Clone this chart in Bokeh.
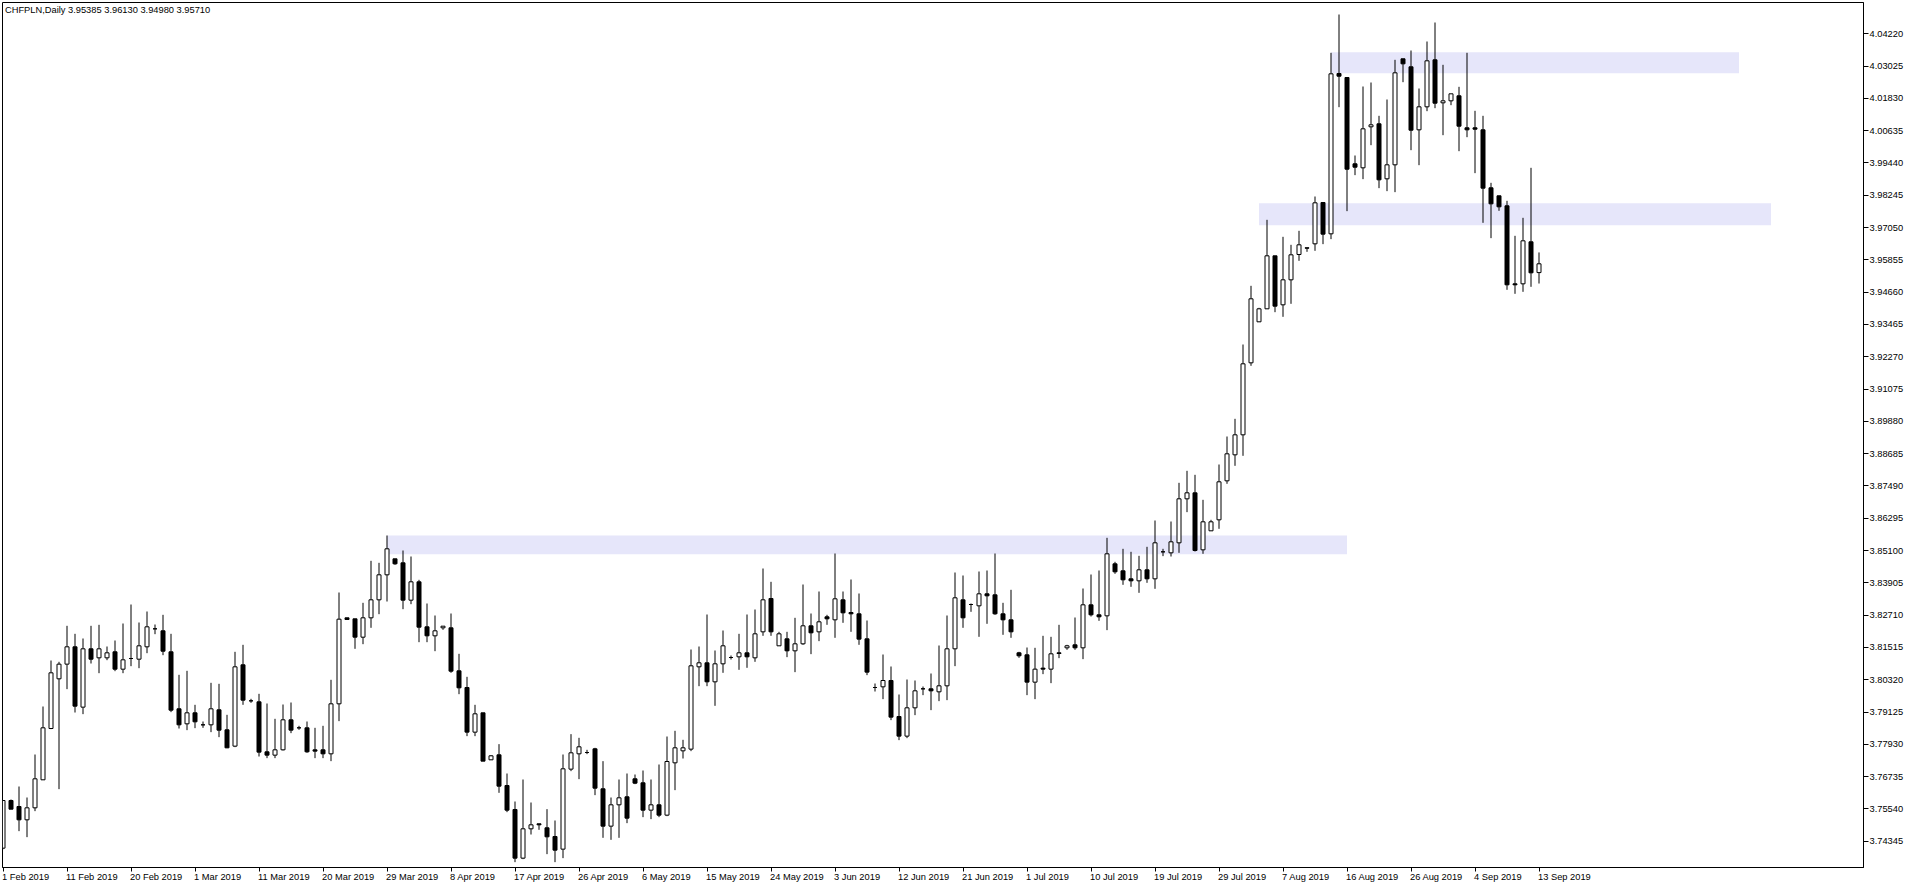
import numpy as np
from bokeh.plotting import figure
from bokeh.layouts import column
from bokeh.models import Range1d, LinearAxis, FixedTicker, NumeralTickFormatter, Label, ColumnDataSource, Grid
from bokeh.core.properties import value
from bokeh.embed import file_html
from bokeh.resources import INLINE

symbol_title = "CHFPLN,Daily  3.95385 3.96130 3.94980 3.95710"

opens = [3.74089,3.75852,3.75630,3.75137,3.75581,3.76617,3.78516,3.80354,3.80897,3.81538,
 3.79306,3.81464,3.81131,3.81131,3.81353,3.80711,3.81106,3.81081,3.81538,3.82204,
 3.82130,3.81353,3.79244,3.78689,3.79096,3.78652,3.78652,3.79207,3.78467,3.77863,
 3.80872,3.79540,3.79503,3.77653,3.77530,3.77727,3.78837,3.78541,3.78541,3.77727,
 3.77727,3.77579,3.79429,3.82611,3.82574,3.81895,3.82611,3.83277,3.84202,3.84794,
 3.84646,3.83264,3.83943,3.82278,3.81945,3.82241,3.82241,3.80650,3.80033,3.78381,
 3.79096,3.77357,3.77542,3.76407,3.75519,3.73719,3.74804,3.74989,3.74841,3.74520,
 3.74052,3.77012,3.77579,3.77628,3.77764,3.76284,3.74903,3.75692,3.75988,3.76654,
 3.76506,3.75495,3.75692,3.75310,3.77246,3.77690,3.77752,3.80798,3.80946,3.80243,
 3.80909,3.81143,3.81168,3.81316,3.81131,3.82093,3.83326,3.81575,3.81834,3.81390,
 3.81649,3.82315,3.82093,3.82648,3.82537,3.83277,3.82808,3.82759,3.81834,3.80033,
 3.80058,3.80292,3.78960,3.78233,3.79281,3.79984,3.79984,3.79873,3.80095,3.81464,
 3.83277,3.83104,3.83055,3.83499,3.83462,3.82759,3.82537,3.81316,3.81242,3.80231,
 3.80749,3.80712,3.81316,3.81501,3.81612,3.81501,3.83092,3.82722,3.82685,3.84609,
 3.84350,3.84054,3.83980,3.84387,3.84054,3.85053,3.85016,3.85386,3.87014,3.87236,
 3.85127,3.85830,3.86237,3.87680,3.88642,3.89382,3.92046,3.93563,3.94044,3.96005,
 3.94192,3.95117,3.96054,3.96301,3.96449,3.97978,3.96819,4.02751,4.02603,3.99409,
 3.99261,4.00778,4.00889,3.98854,3.99372,4.03294,4.02998,4.00667,4.01518,4.03257,
 4.01666,4.01740,4.01925,4.00741,4.00741,4.00667,3.98521,3.98225,3.97855,3.94969,
 3.94969,3.96523,3.95385]
highs = [3.75860,3.75889,3.76370,3.75963,3.77554,3.79330,3.81032,3.80983,3.82315,3.82019,
 3.81846,3.82315,3.82352,3.81550,3.81772,3.82401,3.83104,3.82438,3.82845,3.82364,
 3.82722,3.82019,3.80502,3.80650,3.79392,3.78775,3.80206,3.80169,3.79022,3.81353,
 3.81612,3.79614,3.79799,3.79441,3.78874,3.79404,3.79478,3.78615,3.78775,3.78541,
 3.78615,3.80317,3.83548,3.82611,3.82574,3.83166,3.84720,3.84646,3.85657,3.84794,
 3.85102,3.84880,3.84017,3.83141,3.82697,3.82302,3.82771,3.81279,3.80428,3.79392,
 3.79096,3.77530,3.77937,3.76851,3.75815,3.76629,3.75778,3.74989,3.75532,3.75112,
 3.77554,3.78307,3.78171,3.77727,3.77801,3.77308,3.75963,3.76629,3.76851,3.76814,
 3.76962,3.76629,3.77184,3.78220,3.78430,3.78097,3.81439,3.81550,3.82734,3.81402,
 3.82142,3.81217,3.82019,3.82734,3.82919,3.84436,3.83943,3.82093,3.82093,3.82611,
 3.83844,3.82771,3.83585,3.82722,3.84991,3.83585,3.84029,3.83511,3.82512,3.80181,
 3.81254,3.80810,3.79774,3.80329,3.80292,3.80070,3.80551,3.81587,3.82697,3.84288,
 3.84177,3.83141,3.84325,3.84362,3.84991,3.83166,3.83647,3.81353,3.81513,3.81501,
 3.81945,3.81908,3.82352,3.81612,3.82623,3.83696,3.84214,3.84362,3.85571,3.84683,
 3.85164,3.85053,3.84905,3.85238,3.86212,3.85164,3.86175,3.87606,3.88050,3.87902,
 3.86977,3.86237,3.88284,3.89320,3.89974,3.92724,3.94895,3.94081,3.97337,3.96005,
 3.96708,3.96412,3.96930,3.96301,3.98200,3.97978,4.03516,4.04934,4.02603,3.99717,
 4.02270,4.02418,4.01185,4.01789,4.03257,4.03294,4.03602,4.02196,4.03935,4.04638,
 4.03072,4.01999,4.02258,4.03516,4.01370,4.01185,3.98706,3.98225,3.98040,3.96745,
 3.97411,3.99261,3.96130]
lows = [3.74050,3.75532,3.74718,3.74496,3.75458,3.76617,3.78492,3.76272,3.79972,3.79108,
 3.79047,3.80921,3.80563,3.81044,3.80637,3.80563,3.80822,3.80748,3.81303,3.82006,
 3.81229,3.79121,3.78516,3.78455,3.78529,3.78541,3.78381,3.78196,3.77789,3.77826,
 3.79392,3.79466,3.77480,3.77419,3.77419,3.77702,3.78344,3.78467,3.77616,3.77419,
 3.77419,3.77308,3.78788,3.82537,3.81464,3.81636,3.82241,3.82746,3.83215,3.84572,
 3.82931,3.83116,3.81710,3.81710,3.81377,3.82167,3.80576,3.79786,3.78233,3.78233,
 3.77308,3.77357,3.76136,3.75421,3.73571,3.73682,3.74594,3.74767,3.73867,3.73571,
 3.73719,3.76938,3.76642,3.77567,3.76050,3.74471,3.74397,3.74471,3.75014,3.76457,
 3.75236,3.75162,3.75236,3.75273,3.76235,3.77406,3.77678,3.80082,3.80082,3.79355,
 3.80576,3.81069,3.80687,3.80761,3.80983,3.81945,3.81945,3.81575,3.81156,3.80601,
 3.81612,3.81267,3.81748,3.82352,3.81871,3.82426,3.82093,3.81612,3.80490,3.79885,
 3.79602,3.78825,3.78085,3.78159,3.79010,3.79750,3.79195,3.79528,3.79565,3.80823,
 3.82241,3.82833,3.81908,3.82389,3.82722,3.81982,3.81871,3.81131,3.79750,3.79602,
 3.80527,3.80194,3.81119,3.81427,3.81427,3.81082,3.82660,3.82500,3.82155,3.84239,
 3.83832,3.83758,3.83536,3.83906,3.83684,3.84893,3.84880,3.85016,3.86521,3.85065,
 3.84979,3.85830,3.85904,3.87569,3.88235,3.88605,3.91935,3.93563,3.94044,3.93920,
 3.93748,3.94229,3.95820,3.96153,3.96190,3.96437,3.96622,4.01505,3.97658,3.98990,
 3.98842,4.00099,3.98509,3.98398,3.98361,4.02430,3.99914,3.99359,4.01357,4.01468,
 4.00469,4.01579,3.99877,4.00395,3.99064,3.97226,3.96659,3.97670,3.94747,3.94599,
 3.94673,3.94858,3.94980]
closes = [3.75852,3.75532,3.75137,3.75581,3.76654,3.78541,3.80576,3.80897,3.81538,3.79343,
 3.81464,3.81081,3.81464,3.81316,3.80711,3.81057,3.81106,3.81575,3.82278,3.82204,
 3.81377,3.79195,3.78652,3.79096,3.78763,3.78652,3.79244,3.78455,3.77801,3.80798,
 3.79565,3.79540,3.77641,3.77530,3.77727,3.78837,3.78455,3.78541,3.77653,3.77678,
 3.77579,3.79429,3.82561,3.82549,3.81895,3.82611,3.83277,3.84202,3.85164,3.84609,
 3.83264,3.83943,3.82265,3.81945,3.82130,3.82302,3.80637,3.80021,3.78381,3.79059,
 3.77308,3.77505,3.76383,3.75495,3.73719,3.74804,3.74952,3.74952,3.74508,3.74015,
 3.77024,3.77616,3.77838,3.77628,3.76309,3.74903,3.75692,3.75951,3.75199,3.76494,
 3.75495,3.75692,3.75310,3.77295,3.77801,3.77801,3.80835,3.80946,3.80243,3.80909,
 3.81575,3.81143,3.81316,3.81168,3.82019,3.83277,3.82093,3.82019,3.81390,3.81649,
 3.82315,3.82056,3.82463,3.82574,3.83314,3.82796,3.82759,3.81822,3.80601,3.80033,
 3.80292,3.78936,3.78233,3.79281,3.79910,3.79984,3.79910,3.80095,3.81464,3.83351,
 3.82611,3.83104,3.83499,3.83425,3.82759,3.82537,3.82093,3.81205,3.80231,3.80712,
 3.80712,3.81279,3.81291,3.81575,3.81501,3.83092,3.82722,3.82648,3.84979,3.84313,
 3.84017,3.83980,3.84387,3.84054,3.85386,3.85053,3.85423,3.87014,3.87236,3.85102,
 3.86163,3.86163,3.87643,3.88679,3.89382,3.92009,3.94414,3.94044,3.96005,3.94142,
 3.95117,3.96042,3.96412,3.96289,3.97966,3.96807,4.02739,4.02652,3.99211,3.99285,
 4.00704,4.00852,3.98817,3.99372,4.02776,4.03109,4.00654,4.01518,4.03220,4.01653,
 4.01740,4.01999,4.00802,4.00667,4.00691,3.98509,3.97929,3.97818,3.94932,3.94932,
 3.96560,3.95376,3.95710]

date_tick_bars = [0, 8, 16, 24, 32, 40, 48, 56, 64, 72, 80, 88, 96, 104, 112, 120,
                  128, 136, 144, 152, 160, 168, 176, 184, 192]
date_tick_labels = ["1 Feb 2019", "11 Feb 2019", "20 Feb 2019", "1 Mar 2019", "11 Mar 2019",
                    "20 Mar 2019", "29 Mar 2019", "8 Apr 2019", "17 Apr 2019", "26 Apr 2019",
                    "6 May 2019", "15 May 2019", "24 May 2019", "3 Jun 2019", "12 Jun 2019",
                    "21 Jun 2019", "1 Jul 2019", "10 Jul 2019", "19 Jul 2019", "29 Jul 2019",
                    "7 Aug 2019", "16 Aug 2019", "26 Aug 2019", "4 Sep 2019", "13 Sep 2019"]
price_ticks = [4.04220, 4.03025, 4.01830, 4.00635, 3.99440, 3.98245, 3.97050, 3.95855,
               3.94660, 3.93465, 3.92270, 3.91075, 3.89880, 3.88685, 3.87490, 3.86295,
               3.85100, 3.83905, 3.82710, 3.81515, 3.80320, 3.79125, 3.77930, 3.76735,
               3.75540, 3.74345]

zone_left = [48, 157, 166]
zone_right = [168, 221, 217]
zone_top = [3.85657, 3.97952, 4.03539]
zone_bottom = [3.84965, 3.97138, 4.02762]

FONT = "Liberation Sans"
FS = "9.3px"

o = np.array(opens); h = np.array(highs); l = np.array(lows); c = np.array(closes)
idx = np.arange(len(o))
bull = c >= o
src_w = ColumnDataSource(dict(x=idx, h=h, l=l))
src_up = ColumnDataSource(dict(x=idx[bull], top=np.maximum(o, c)[bull], bottom=np.minimum(o, c)[bull]))
src_dn = ColumnDataSource(dict(x=idx[~bull], top=np.maximum(o, c)[~bull], bottom=np.minimum(o, c)[~bull]))

x0, x1 = -0.0625, 232.5625
y0, y1 = 3.73373, 4.05378
px_per_x = 8.0
px_per_y = (y1 - y0) / 865.0
xr = Range1d(x0, x1)

# main price panel
p = figure(width=1916, height=872, output_backend="svg", toolbar_location=None,
           x_range=xr, y_range=Range1d(y0, y1),
           x_axis_location=None, y_axis_location=None,
           min_border_left=2, min_border_top=2, min_border_right=53, min_border_bottom=5,
           background_fill_color="white", border_fill_color="white")
p.outline_line_color = "black"
p.outline_line_width = 1
p.outline_line_alpha = 1.0
for r in list(p.center):
    if isinstance(r, Grid):
        r.visible = False

p.quad(left=zone_left, right=zone_right, top=zone_top, bottom=zone_bottom,
       fill_color="#E6E6FA", line_color=None)

p.segment(x0="x", y0="h", x1="x", y1="l", source=src_w, line_color="black", line_width=1)
p.vbar(x="x", top="top", bottom="bottom", width=0.5, source=src_up,
       fill_color="white", line_color="black", line_width=1)
p.vbar(x="x", top="top", bottom="bottom", width=0.5, source=src_dn,
       fill_color="black", line_color="black", line_width=1)

yax = LinearAxis(ticker=FixedTicker(ticks=price_ticks),
                 formatter=NumeralTickFormatter(format="0.00000"))
yax.major_tick_in = 0
yax.major_tick_out = 5
yax.minor_tick_out = 0
yax.minor_tick_in = 0
yax.major_label_standoff = 1
yax.major_label_text_font = FONT
yax.major_label_text_font_size = FS
yax.major_label_text_color = "black"
yax.axis_line_color = "black"
yax.major_tick_line_color = "black"
p.add_layout(yax, "right")

# bottom axis: tick marks only; the date texts sit in the strip below, left-aligned at each tick
xax = LinearAxis(ticker=FixedTicker(ticks=date_tick_bars))
xax.major_label_overrides = {b: "" for b in date_tick_bars}
xax.major_tick_in = 0
xax.major_tick_out = 4
xax.minor_tick_out = 0
xax.minor_tick_in = 0
xax.major_label_standoff = 0
xax.major_label_text_font_size = "0px"
xax.axis_line_color = "black"
xax.major_tick_line_color = "black"
p.add_layout(xax, "below")

title = Label(x=x0 + 2.5 / px_per_x, y=y1 - 7.5 * px_per_y, text=symbol_title,
              text_font=FONT, text_font_size=FS, text_color="black",
              text_baseline="middle", text_align="left")
p.add_layout(title)

# date label strip sharing the same x scale
d = figure(width=1916, height=16, output_backend="svg", toolbar_location=None,
           x_range=xr, y_range=Range1d(0, 1),
           x_axis_location=None, y_axis_location=None,
           min_border_left=2, min_border_top=0, min_border_right=53, min_border_bottom=0,
           background_fill_color="white", border_fill_color="white")
d.outline_line_color = None
for r in list(d.center):
    if isinstance(r, Grid):
        r.visible = False
d.text(x=[b - 0.12 for b in date_tick_bars], y=[0.72] * len(date_tick_bars), text=date_tick_labels,
       text_font=value(FONT), text_font_size=value(FS), text_color="black",
       text_baseline="middle", text_align="left")

layout = column(p, d, spacing=0)

html = file_html(layout, INLINE)
html = html.replace("<body>", '<body style="margin:0;overflow:hidden">', 1)
open("out.html", "w").write(html)
